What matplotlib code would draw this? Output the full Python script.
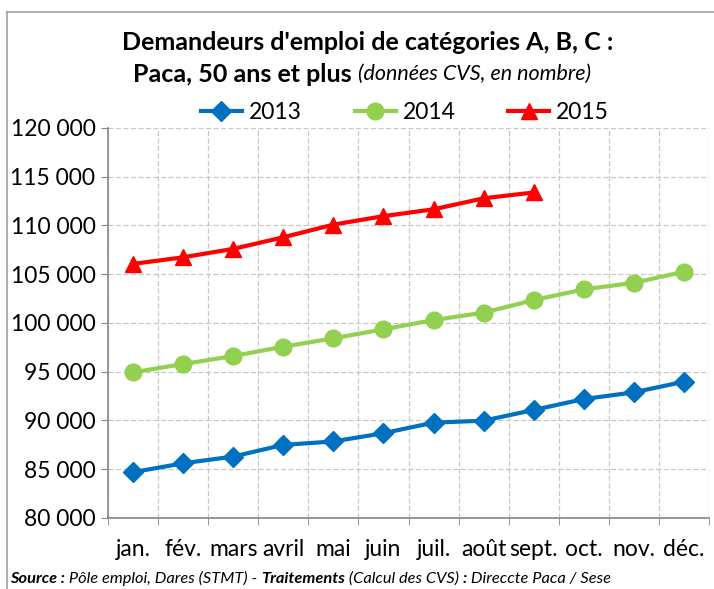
import matplotlib
matplotlib.use("Agg")
import matplotlib.pyplot as plt
from matplotlib.text import Annotation
import numpy as np

plt.rcParams['font.family'] = ['Lato', 'DejaVu Sans']

months = ["jan.", "fév.", "mars", "avril", "mai", "juin", "juil.", "août", "sept.", "oct.", "nov.", "déc."]
s2013 = [84700, 85610, 86300, 87500, 87850, 88700, 89780, 89980, 91080, 92200, 92890, 93980]
s2014 = [94940, 95790, 96610, 97570, 98430, 99350, 100300, 101060, 102350, 103450, 104120, 105260]
s2015 = [106060, 106740, 107600, 108790, 110090, 110960, 111660, 112790, 113390]
yticks = [80000, 85000, 90000, 95000, 100000, 105000, 110000, 115000, 120000]
ytick_labels = ["80 000", "85 000", "90 000", "95 000", "100 000", "105 000", "110 000", "115 000", "120 000"]

W, H = 714, 589
fig = plt.figure(figsize=(W / 100, H / 100), dpi=100)
ax = fig.add_axes([108 / W, 1 - 518 / H, (709 - 108) / W, (518 - 128) / H])

x = np.arange(len(months))
ax.plot(x, s2013, color="#0070C0", lw=3, marker="D", ms=10, label="2013", zorder=3)
ax.plot(x, s2014, color="#92D050", lw=3, marker="o", ms=12, label="2014", zorder=3)
ax.plot(x[:len(s2015)], s2015, color="#FF0000", lw=3, marker="^", ms=11, label="2015", zorder=3)

ax.set_xlim(-0.5, len(months) - 0.5)
ax.set_ylim(80000, 120000)
ax.set_yticks(yticks)
ax.set_yticklabels(ytick_labels, fontsize=16.5)
ax.set_xticks(x)
ax.set_xticklabels(months, fontsize=16.5)
ax.set_xticks(np.arange(-0.5, len(months)), minor=True)
ax.tick_params(axis="x", which="major", length=0, pad=15)
ax.tick_params(axis="x", which="minor", length=5, color="#868686", direction="out")
ax.tick_params(axis="y", length=5, color="#868686", direction="out", pad=4)

ax.grid(True, axis="y", which="major", color="#c8c8c8", ls=(0, (4, 2)), lw=0.9)
ax.grid(True, axis="x", which="minor", color="#c8c8c8", ls=(0, (4, 2)), lw=0.9)
ax.set_axisbelow(True)
for s in ["top", "right"]:
    ax.spines[s].set_visible(False)
for s in ["left", "bottom"]:
    ax.spines[s].set_color("#868686")
    ax.spines[s].set_linewidth(1.2)

leg = ax.legend(loc="center", bbox_to_anchor=((405 - 108) / (709 - 108), 1 + 15 / 390), ncol=3, frameon=False,
                fontsize=16.5, handlelength=1.8, columnspacing=2.3, handletextpad=0.3,
                borderaxespad=0.0, borderpad=0.0)

# title
fig.text(368 / W, 1 - 43 / H, "Demandeurs d'emploi de catégories A, B, C :", ha="center", va="center",
         fontsize=18, fontweight="bold")
fig.text(352 / W, 1 - 74 / H, "Paca, 50 ans et plus", ha="right", va="center",
         fontsize=18, fontweight="bold")
fig.text(358 / W, 1 - 74 / H, "(données CVS, en nombre)", ha="left", va="center",
         fontsize=15.5, style="italic")

# source
parts = [("Source :", "bold"), (" Pôle emploi, Dares (STMT) - ", "normal"), ("Traitements", "bold"),
         (" (Calcul des CVS) ", "normal"), (":", "bold"), (" Direccte Paca / Sese", "normal")]
prev = fig.text(10 / W, 1 - 583 / H, parts[0][0], ha="left", va="baseline", fontsize=11.8,
                style="italic", fontweight=parts[0][1])
for t, w in parts[1:]:
    prev = fig.add_artist(Annotation(t, xy=(1, 0), xycoords=prev, ha="left", va="bottom",
                                     fontsize=11.8, style="italic", fontweight=w))

# frame
fig.add_artist(plt.Line2D([7 / W, 7 / W], [0, 1 - 12 / H], color="#a0a0a0", lw=1.2))
fig.add_artist(plt.Line2D([7 / W, 1], [1 - 12 / H, 1 - 12 / H], color="#a0a0a0", lw=1.2))

fig.savefig("out.png", dpi=100)
